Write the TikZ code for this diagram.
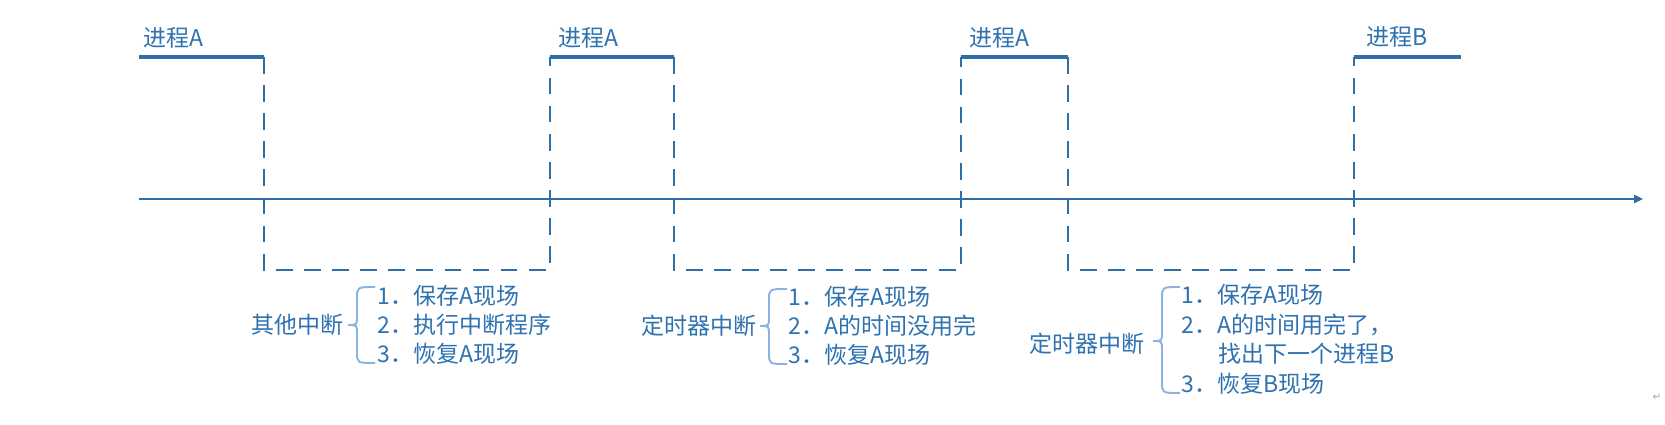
\documentclass[tikz,border=0pt]{standalone}
\usepackage{fontspec}
\setmainfont{Noto Sans CJK SC}
\newfontfamily\markfont{DejaVu Sans}
\usetikzlibrary{arrows.meta}
\definecolor{procblue}{HTML}{2E6FA8}
\definecolor{textblue}{HTML}{2E72B0}
\definecolor{braceblue}{HTML}{8CB3E0}

\begin{document}
\begin{tikzpicture}
  [x=0.02cm,y=-0.02cm,
  run/.style={procblue,line width=2.3pt},
  wait/.style={procblue,line width=1.1pt,dash pattern=on 9.5pt off 6.5pt},
  axis/.style={procblue,line width=1.1pt,-{Triangle[length=5pt,width=4.5pt]}},
  bracket/.style={braceblue,line width=1.1pt},
  lbl/.style={textblue,font=\fontsize{13.1}{15}\selectfont,inner sep=0pt,anchor=west},
  cause/.style={textblue,font=\fontsize{13.1}{15}\selectfont,inner sep=0pt,anchor=east}]
  \useasboundingbox (0,0) rectangle (1665,424);

  \draw [axis] (139,199) -- (1643,199);

  \draw [run] (139,57) -- (264,57);
  \draw [wait] (264,57) -- (264,270) -- (550,270) -- (550,57);
  \draw [run] (550,57) -- (674,57);
  \draw [wait] (674,57) -- (674,270) -- (961,270) -- (961,57);
  \draw [run] (961,57) -- (1068,57);
  \draw [wait] (1068,57) -- (1068,270) -- (1354,270) -- (1354,57);
  \draw [run] (1354,57) -- (1461,57);

  \node[lbl] (p1) at (143,38) {进程A};
  \node[lbl] (p2) at (558,38) {进程A};
  \node[lbl] (p3) at (969,38) {进程A};
  \node[lbl] (p4) at (1366,37) {进程B};

  \node[cause] (c1) at (344,325) {其他中断};
  \draw [bracket] (375,287) .. controls (357,287) .. (357,298) -- (357,316) .. controls (357,325) .. (348,325) .. controls (357,325) .. (357,334) -- (357,352) .. controls (357,363) .. (375,363);
  \node[lbl] (s11) at (377,296) {1．保存A现场};
  \node[lbl] (s12) at (377,325) {2．执行中断程序};
  \node[lbl] (s13) at (377,354) {3．恢复A现场};

  \node[cause] (c2) at (757,326) {定时器中断};
  \draw [bracket] (787,289) .. controls (769,289) .. (769,300) -- (769,317) .. controls (769,326) .. (760,326) .. controls (769,326) .. (769,335) -- (769,353) .. controls (769,364) .. (787,364);
  \node[lbl] (s21) at (788,297) {1．保存A现场};
  \node[lbl] (s22) at (788,326) {2．A的时间没用完};
  \node[lbl] (s23) at (788,355) {3．恢复A现场};

  \node[cause] (c3) at (1145,344) {定时器中断};
  \draw [bracket] (1180,287) .. controls (1162,287) .. (1162,298) -- (1162,332) .. controls (1162,341) .. (1153,341) .. controls (1162,341) .. (1162,350) -- (1162,382) .. controls (1162,393) .. (1180,393);
  \node[lbl] (s31) at (1181,295) {1．保存A现场};
  \node[lbl] (s32) at (1181,325) {2．A的时间用完了，};
  \node[lbl] (s33) at (1218,354) {找出下一个进程B};
  \node[lbl] (s34) at (1181,384) {3．恢复B现场};

  \node[gray!70,font=\markfont\fontsize{6}{7}\selectfont,inner sep=0pt] (ret) at (1657,397) {↵};
\end{tikzpicture}
\end{document}
